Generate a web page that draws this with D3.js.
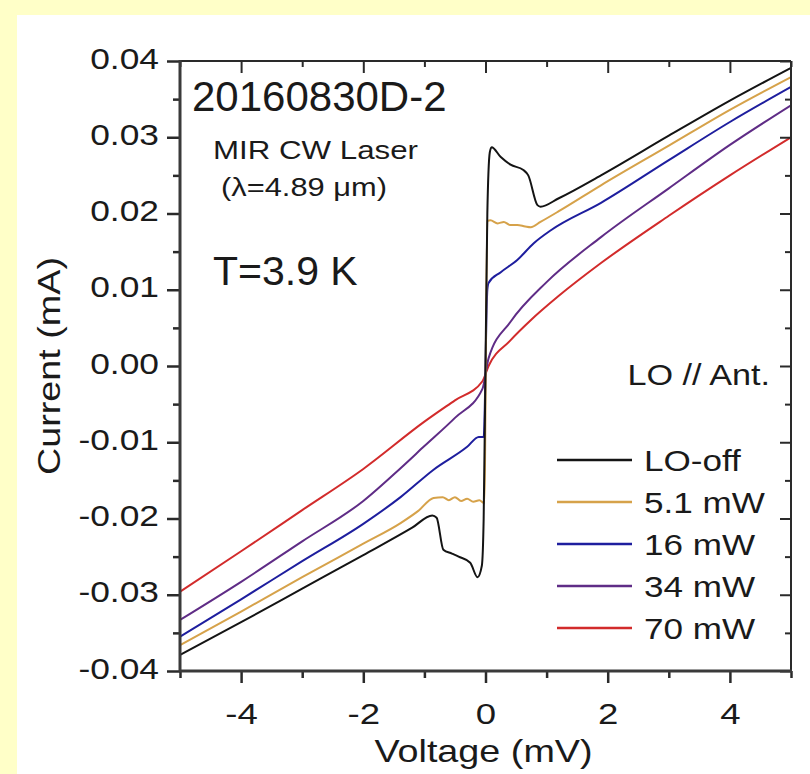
<!DOCTYPE html>
<html>
<head>
<meta charset="utf-8">
<script src="https://cdn.jsdelivr.net/npm/d3@7/dist/d3.min.js"></script>
<style>
  html, body { margin: 0; padding: 0; background: #FFFFC8; }
  svg { display: block; }
  text { font-family: "Liberation Sans", Arial, sans-serif; fill: #1a1a1a; }
</style>
</head>
<body>
<svg id="chart" width="810" height="774"></svg>
<script>
// I–V curves of the junction, LO off and under MIR CW laser pumping
const loOffV = [-5, -4, -3, -2, -1.2, -0.87, -0.8, -0.69, -0.55, -0.44, -0.25, -0.13, -0.06, -0.03, 0.0, 0.03, 0.07, 0.10, 0.25, 0.41, 0.62, 0.70, 0.85, 0.90, 1.2, 1.89, 3, 4, 5];
const loOffI = [-0.0379, -0.0336, -0.0292, -0.0248, -0.0212, -0.0196, -0.0199, -0.0241, -0.0246, -0.0250, -0.0258, -0.0277, -0.0262, -0.0200, 0.0000, 0.0200, 0.0280, 0.0287, 0.0274, 0.0264, 0.0257, 0.0250, 0.0211, 0.0209, 0.0220, 0.0250, 0.0302, 0.0348, 0.0391];

const mw5V = [-5, -4, -3, -2, -1.39, -1.1, -0.85, -0.7, -0.6, -0.5, -0.4, -0.3, -0.2, -0.1, -0.02, 0.03, 0.08, 0.2, 0.3, 0.4, 0.52, 0.65, 0.74, 0.9, 1.2, 1.89, 3, 4, 5];
const mw5I = [-0.0366, -0.0322, -0.0277, -0.0233, -0.0206, -0.0190, -0.0173, -0.0172, -0.0176, -0.0172, -0.0177, -0.0174, -0.0178, -0.0176, -0.0180, 0.0190, 0.0191, 0.0187, 0.0189, 0.0185, 0.0185, 0.0183, 0.0182, 0.0189, 0.0203, 0.0237, 0.0289, 0.0336, 0.0379];

const mw16V = [-5, -4, -3, -2, -1.39, -0.85, -0.30, -0.11, -0.03, 0.03, 0.05, 0.25, 0.52, 0.79, 1.07, 1.89, 3, 4, 5];
const mw16I = [-0.0355, -0.0306, -0.0256, -0.0207, -0.0172, -0.0136, -0.0106, -0.0093, -0.0093, 0.0100, 0.0109, 0.0123, 0.0139, 0.0161, 0.0178, 0.0214, 0.0270, 0.0320, 0.0366];

const mw34V = [-5, -4, -3, -2, -1.39, -1, -0.5, -0.05, 0.05, 0.41, 1, 1.89, 3, 4, 5];
const mw34I = [-0.0333, -0.0283, -0.0230, -0.0177, -0.0134, -0.0105, -0.0068, -0.0030, 0.0010, 0.0058, 0.0110, 0.0169, 0.0233, 0.0290, 0.0342];

const mw70V = [-5, -4, -3, -2, -1, -0.5, -0.05, 0.05, 0.4, 0.74, 1.2, 1.89, 3, 4, 5];
const mw70I = [-0.0296, -0.0243, -0.0189, -0.0135, -0.0073, -0.0045, -0.0020, 0.0000, 0.0033, 0.0060, 0.0092, 0.0135, 0.0197, 0.0250, 0.0300];

const seriesNames = ["LO-off", "5.1 mW", "16 mW", "34 mW", "70 mW"];
const seriesColors = ["#141414", "#D6A24A", "#1E1E9E", "#5F2C86", "#D22B2B"];

const xTickValues = [-4, -2, 0, 2, 4];
const xMinorTicks = [-5, -3, -1, 1, 3, 5];
const yTickValues = [-0.04, -0.03, -0.02, -0.01, 0.00, 0.01, 0.02, 0.03, 0.04];
const yMinorTicks = [-0.035, -0.025, -0.015, -0.005, 0.005, 0.015, 0.025, 0.035];

const series = [
  [loOffV, loOffI], [mw5V, mw5I], [mw16V, mw16I], [mw34V, mw34I], [mw70V, mw70I]
].map(([v, c], k) => ({ name: seriesNames[k], color: seriesColors[k], pts: v.map((d, i) => [d, c[i]]) }));

const svg = d3.select("#chart");

// white figure panel on the yellow page
svg.append("rect").attr("x", 17).attr("y", 15).attr("width", 793).attr("height", 759).attr("fill", "#ffffff");

const L = 180, R = 791, T = 61, B = 671;
const x = d3.scaleLinear().domain([-5, 5]).range([L, R]);
const y = d3.scaleLinear().domain([-0.04, 0.04]).range([B, T]);

const TICK_STRETCH = 1.22;

svg.append("defs").append("clipPath").attr("id", "plotClip")
  .append("rect").attr("x", L).attr("y", T).attr("width", R - L).attr("height", B - T);

// curves
const line = d3.line().x(d => x(d[0])).y(d => y(d[1])).curve(d3.curveMonotoneX);
const curves = svg.append("g").attr("clip-path", "url(#plotClip)");
// draw from highest power to LO-off so the unpumped curve sits on top
series.slice().reverse().forEach(s => {
  curves.append("path").datum(s.pts)
    .attr("d", line)
    .attr("fill", "none")
    .attr("stroke", s.color)
    .attr("stroke-width", 2)
    .attr("stroke-linejoin", "round");
});

function styleAxis(g, width) {
  g.select(".domain").remove();
  g.selectAll(".tick line").attr("stroke", "#2a2a2a").attr("stroke-width", width);
}

// bottom axis: major + minor ticks, outward
const xAxisB = svg.append("g").attr("transform", `translate(0,${B})`)
  .call(d3.axisBottom(x).tickValues(xTickValues).tickSize(12).tickSizeOuter(0).tickFormat(d => String(d)));
styleAxis(xAxisB, 2.5);
xAxisB.selectAll(".tick text")
  .attr("y", 53).attr("dy", 0)
  .attr("font-size", 30)
  .attr("fill", "#1a1a1a")
  .attr("transform", `scale(${TICK_STRETCH},1)`);
const xMinB = svg.append("g").attr("transform", `translate(0,${B})`)
  .call(d3.axisBottom(x).tickValues(xMinorTicks).tickSize(7).tickSizeOuter(0).tickFormat(""));
styleAxis(xMinB, 2.5);

// top axis: inward ticks
const xAxisT = svg.append("g").attr("transform", `translate(0,${T})`)
  .call(d3.axisTop(x).tickValues(xTickValues).tickSize(-12).tickSizeOuter(0).tickFormat(""));
styleAxis(xAxisT, 2);
const xMinT = svg.append("g").attr("transform", `translate(0,${T})`)
  .call(d3.axisTop(x).tickValues(xMinorTicks).tickSize(-6).tickSizeOuter(0).tickFormat(""));
styleAxis(xMinT, 2);

// left axis: outward ticks with labels
const yAxisL = svg.append("g").attr("transform", `translate(${L},0)`)
  .call(d3.axisLeft(y).tickValues(yTickValues).tickSize(13).tickSizeOuter(0).tickFormat(d => d.toFixed(2)));
styleAxis(yAxisL, 2.5);
yAxisL.selectAll(".tick text")
  .attr("x", -21 / TICK_STRETCH).attr("dy", 7)
  .attr("font-size", 29)
  .attr("fill", "#1a1a1a")
  .attr("transform", `scale(${TICK_STRETCH},1)`);
const yMinL = svg.append("g").attr("transform", `translate(${L},0)`)
  .call(d3.axisLeft(y).tickValues(yMinorTicks).tickSize(7).tickSizeOuter(0).tickFormat(""));
styleAxis(yMinL, 2.5);

// right axis: inward ticks
const yAxisR = svg.append("g").attr("transform", `translate(${R},0)`)
  .call(d3.axisRight(y).tickValues(yTickValues).tickSize(-11).tickSizeOuter(0).tickFormat(""));
styleAxis(yAxisR, 2);
const yMinR = svg.append("g").attr("transform", `translate(${R},0)`)
  .call(d3.axisRight(y).tickValues(yMinorTicks).tickSize(-6).tickSizeOuter(0).tickFormat(""));
styleAxis(yMinR, 2);

// frame
svg.append("line").attr("x1", L).attr("x2", R).attr("y1", T).attr("y2", T).attr("stroke", "#2a2a2a").attr("stroke-width", 2);
svg.append("line").attr("x1", R).attr("x2", R).attr("y1", T).attr("y2", B).attr("stroke", "#2a2a2a").attr("stroke-width", 2);
svg.append("line").attr("x1", L).attr("x2", L).attr("y1", T - 1).attr("y2", B + 1).attr("stroke", "#3a3a3a").attr("stroke-width", 3);
svg.append("line").attr("x1", L - 1).attr("x2", R + 1).attr("y1", B).attr("y2", B).attr("stroke", "#3a3a3a").attr("stroke-width", 3);

// axis titles
svg.append("text")
  .attr("transform", `translate(${(L + R) / 2 - 2},762) scale(1.18,1)`)
  .attr("text-anchor", "middle").attr("font-size", 32)
  .text("Voltage (mV)");
svg.append("text")
  .attr("transform", `translate(60,${(T + B) / 2}) rotate(-90) scale(1.18,1)`)
  .attr("text-anchor", "middle").attr("font-size", 32)
  .text("Current (mA)");

// annotations
svg.append("text").attr("x", 192).attr("y", 111).attr("font-size", 42).text("20160830D-2");
svg.append("text").attr("x", 213).attr("y", 159).attr("font-size", 26)
  .attr("textLength", 205).attr("lengthAdjust", "spacingAndGlyphs").text("MIR  CW Laser");
svg.append("text").attr("x", 221).attr("y", 196).attr("font-size", 26)
  .attr("textLength", 166).attr("lengthAdjust", "spacingAndGlyphs").text("(λ=4.89 μm)");
svg.append("text").attr("x", 213).attr("y", 285).attr("font-size", 41).text("T=3.9 K");
svg.append("text")
  .attr("transform", "translate(770,385) scale(1.14,1)")
  .attr("text-anchor", "end").attr("font-size", 30)
  .text("LO // Ant.");

// legend
const legendY = d3.scalePoint().domain(seriesNames).range([460, 628]);
const legend = svg.append("g");
series.forEach(s => {
  const g = legend.append("g").attr("transform", `translate(0,${legendY(s.name)})`);
  g.append("line").attr("x1", 557).attr("x2", 632).attr("y1", 0).attr("y2", 0)
    .attr("stroke", s.color).attr("stroke-width", 2.5);
  g.append("text")
    .attr("transform", "translate(644,11) scale(1.17,1)")
    .attr("font-size", 30)
    .text(s.name);
});
</script>
</body>
</html>
